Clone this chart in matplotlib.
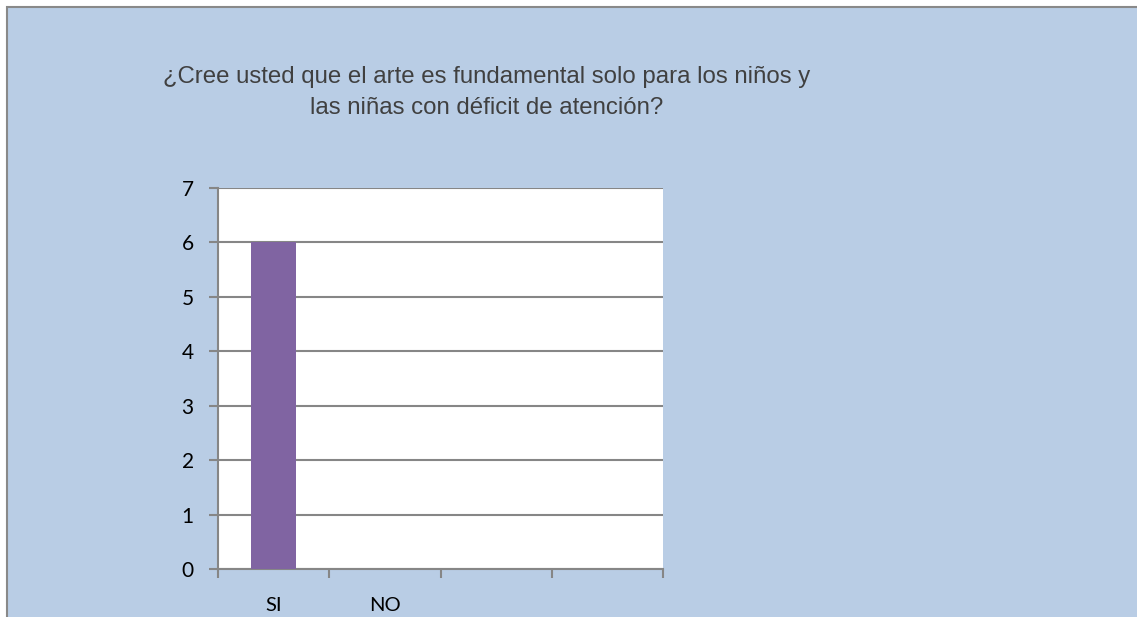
import matplotlib
matplotlib.use("Agg")
import matplotlib.pyplot as plt
from matplotlib.patches import Rectangle

# Data
categories = ['SI', 'NO', '', '']
values = [6, 0, 0, 0]
title = '¿Cree usted que el arte es fundamental solo para los niños y\nlas niñas con déficit de atención?'

fig = plt.figure(figsize=(11.37, 6.17), dpi=100, facecolor='white')

# chart area background with border on top / left
bg = Rectangle((7 / 1137, -0.1), 1.2, 1.1 - 7 / 617, transform=fig.transFigure,
               facecolor='#B9CDE5', edgecolor='#898989', linewidth=1.5, zorder=-10)
fig.patches.append(bg)

ax = fig.add_axes([218 / 1137, 1 - 569 / 617, (663 - 218) / 1137, (569 - 188) / 617])
ax.set_facecolor('white')

x = [i + 0.5 for i in range(len(categories))]
ax.bar(x, values, width=0.4, color='#8064A2', zorder=3)

ax.set_xlim(0, len(categories))
ax.set_ylim(0, 7)
ax.set_yticks(range(0, 8))
ax.yaxis.grid(True, color='#868686', linewidth=1.5)
ax.set_axisbelow(True)

for side in ['top', 'right']:
    ax.spines[side].set_visible(False)
for side in ['left', 'bottom']:
    ax.spines[side].set_color('#868686')
    ax.spines[side].set_linewidth(1.5)

# major ticks at category borders, labels on minor ticks
ax.set_xticks(range(0, len(categories) + 1))
ax.set_xticklabels([])
ax.set_xticks(x, minor=True)
ax.set_xticklabels(categories, minor=True, fontsize=14.5, family='Lato')
ax.tick_params(axis='x', which='major', direction='out', length=6.5, width=1.5, color='#868686')
ax.tick_params(axis='x', which='minor', length=0, pad=20)
ax.tick_params(axis='y', direction='out', length=6.5, width=1.5, color='#868686',
               labelsize=15, pad=11)
for lab in ax.get_yticklabels():
    lab.set_family('Lato')

fig.text(0.428, 1 - 92.5 / 617, title, ha='center', va='center', fontsize=17.25,
         family='Liberation Sans', color='#404040', linespacing=1.5)

fig.savefig('out.png', dpi=100)
